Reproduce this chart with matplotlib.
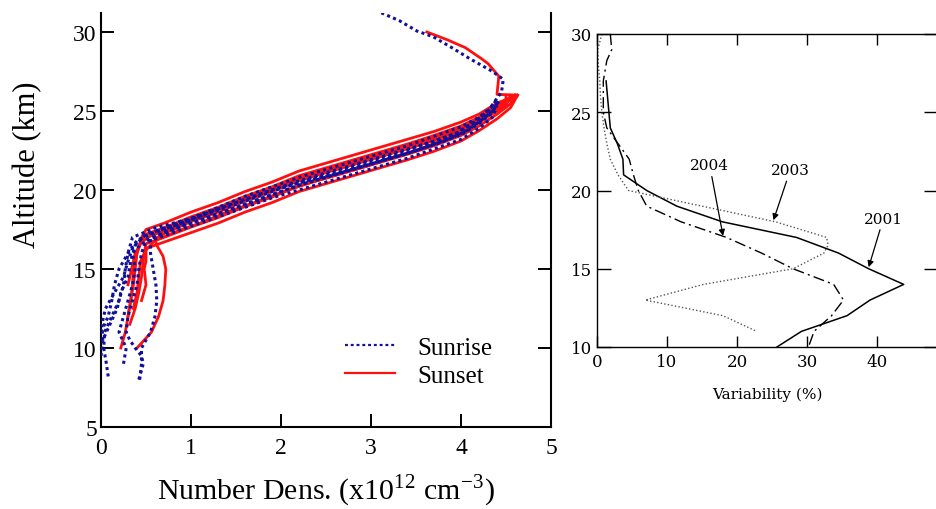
import matplotlib
matplotlib.use("Agg")
import matplotlib.pyplot as plt

# ---- left panel: number density profiles (altitude km, density x1e12 cm-3)
# sunset profiles
ss1_alt = [12.0, 13.0, 14.0, 15.0, 16.0, 17.0, 17.5, 17.9, 18.6, 19.2, 19.9, 20.5, 21.2, 21.7, 22.2, 22.7,
           23.2, 23.7, 24.3, 24.8, 25.5, 26.0, 26.05, 27.2, 28.0, 28.3, 29.0, 29.5, 30.0]
ss1_den = [0.30, 0.33, 0.36, 0.38, 0.40, 0.45, 0.50, 0.70, 1.0, 1.3, 1.6, 1.9, 2.2, 2.5, 2.8, 3.1,
           3.4, 3.7, 4.0, 4.2, 4.4, 4.63, 4.40, 4.42, 4.30, 4.23, 4.05, 3.85, 3.62]
ss2_alt = [10.0, 11.0, 12.0, 13.0, 14.0, 15.0, 16.0, 16.8, 17.2, 17.6, 18.3, 18.9, 19.6, 20.2, 20.9, 21.4,
           21.9, 22.4, 22.9, 23.45, 24.05, 24.6, 25.3, 25.85, 26.0]
ss2_den = [0.22, 0.27, 0.30, 0.33, 0.35, 0.36, 0.40, 0.45, 0.50, 0.70, 1.0, 1.3, 1.6, 1.9, 2.2, 2.5,
           2.8, 3.1, 3.4, 3.7, 4.0, 4.2, 4.4, 4.55, 4.60]
ss3_alt = [10.0, 10.5, 11.0, 12.0, 13.0, 14.0, 15.0, 15.8, 16.5, 16.9, 17.3, 18.0, 18.6, 19.3, 19.9, 20.6,
           21.1, 21.6, 22.1, 22.6, 23.15, 23.8, 24.4, 25.1, 25.7, 26.0]
ss3_den = [0.40, 0.48, 0.56, 0.64, 0.69, 0.71, 0.72, 0.69, 0.62, 0.60, 0.72, 1.0, 1.3, 1.6, 1.9, 2.2,
           2.5, 2.8, 3.1, 3.4, 3.7, 4.0, 4.2, 4.4, 4.55, 4.62]
ss4_alt = [11.5, 12.5, 13.5, 14.5, 15.5, 16.0, 16.6, 17.0, 17.65, 18.25, 18.95, 19.55, 20.25, 20.75, 21.25,
           21.75, 22.25, 22.8, 23.45, 24.05, 24.8, 25.45, 26.0]
ss4_den = [0.32, 0.38, 0.42, 0.45, 0.47, 0.48, 0.50, 0.70, 1.0, 1.3, 1.6, 1.9, 2.2, 2.5, 2.8,
           3.1, 3.4, 3.7, 4.0, 4.2, 4.4, 4.55, 4.60]
ss5_alt = [13.0, 14.0, 15.0, 15.5, 16.3, 16.7, 17.3, 17.9, 18.6, 19.2, 19.9, 20.4, 20.9, 21.4, 21.9,
           22.45, 23.1, 23.75, 24.5, 25.2, 26.0]
ss5_den = [0.45, 0.50, 0.48, 0.50, 0.50, 0.70, 1.0, 1.3, 1.6, 1.9, 2.2, 2.5, 2.8, 3.1, 3.4,
           3.7, 4.0, 4.2, 4.4, 4.55, 4.63]
ss6_alt = [14.0, 15.0, 16.0, 16.7, 17.1, 17.5, 18.1, 18.75, 19.45, 20.05, 20.75, 21.25, 21.75, 22.25,
           22.75, 23.3, 23.95, 24.5, 25.2, 25.75, 26.0]
ss6_den = [0.30, 0.34, 0.38, 0.45, 0.55, 0.75, 1.0, 1.3, 1.6, 1.9, 2.2, 2.5, 2.8, 3.1,
           3.4, 3.7, 4.0, 4.2, 4.4, 4.5, 4.5]
ss7_alt = [12.5, 13.5, 14.5, 15.5, 16.2, 16.8, 17.4, 17.9, 18.6, 19.2, 19.95, 20.5, 21.0, 21.5, 22.05,
           22.6, 23.3, 23.9, 24.65, 25.35, 26.0]
ss7_den = [0.36, 0.40, 0.42, 0.44, 0.50, 0.60, 0.85, 1.1, 1.4, 1.7, 2.05, 2.35, 2.65, 2.95, 3.25,
           3.55, 3.85, 4.1, 4.3, 4.5, 4.55]

# sunrise profiles
sr1_alt = [8.2, 9.0, 10.0, 11.0, 12.0, 13.0, 14.0, 15.0, 16.0, 17.0, 17.6, 18.2, 18.9, 19.6, 20.2, 20.8,
           21.3, 21.8, 22.3, 22.8, 23.4, 24.0, 24.6, 25.3, 25.8]
sr1_den = [0.08, 0.06, 0.03, 0.04, 0.12, 0.20, 0.25, 0.27, 0.30, 0.35, 0.60, 1.0, 1.3, 1.6, 1.9, 2.2,
           2.5, 2.8, 3.1, 3.4, 3.7, 4.0, 4.2, 4.35, 4.4]
sr2_alt = [9.5, 10.5, 11.5, 12.5, 13.5, 14.5, 15.5, 16.5, 17.2, 17.7, 18.3, 18.9, 19.5, 20.1, 20.6, 21.0,
           21.5, 22.0, 22.5, 23.05, 23.7, 24.3, 25.0, 25.6]
sr2_den = [0.0, 0.02, 0.10, 0.18, 0.22, 0.30, 0.33, 0.38, 0.50, 0.80, 1.1, 1.4, 1.7, 2.0, 2.3, 2.6,
           2.9, 3.2, 3.5, 3.8, 4.05, 4.2, 4.35, 4.42]
sr3_alt = [8.0, 9.0, 9.5, 10.0, 10.5, 11.0, 12.0, 13.0, 14.0, 15.0, 16.0, 16.8, 17.3, 17.9, 18.5, 19.1,
           19.7, 20.3, 20.8, 21.3, 21.8, 22.3, 22.9, 23.5, 24.2, 24.9, 25.5]
sr3_den = [0.42, 0.47, 0.45, 0.38, 0.32, 0.28, 0.30, 0.35, 0.40, 0.42, 0.45, 0.50, 0.70, 1.0, 1.3, 1.6,
           1.9, 2.2, 2.5, 2.8, 3.1, 3.4, 3.7, 4.0, 4.2, 4.35, 4.4]
sr4_alt = [9.0, 10.0, 11.0, 12.0, 13.0, 14.0, 15.0, 16.0, 16.6, 17.1, 17.7, 18.3, 18.9, 19.5, 20.0, 20.5,
           21.0, 21.5, 22.0, 22.6, 23.2, 23.9, 24.6, 25.3]
sr4_den = [0.25, 0.28, 0.20, 0.25, 0.30, 0.35, 0.38, 0.35, 0.45, 0.70, 1.0, 1.3, 1.6, 1.9, 2.2, 2.5,
           2.8, 3.1, 3.4, 3.7, 4.0, 4.2, 4.35, 4.4]
sr5_alt = [8.0, 9.0, 10.0, 11.0, 12.0, 13.0, 14.0, 15.0, 16.0, 16.9, 17.4, 18.0, 18.6, 19.2, 19.8, 20.4,
           20.9, 21.4, 21.9, 22.4, 23.0, 23.6, 24.3, 25.0, 25.6]
sr5_den = [0.43, 0.45, 0.45, 0.55, 0.60, 0.62, 0.61, 0.58, 0.55, 0.55, 0.75, 1.05, 1.35, 1.65, 1.95, 2.25,
           2.55, 2.85, 3.15, 3.45, 3.75, 4.0, 4.2, 4.35, 4.42]
sr6_alt = [11.0, 12.0, 13.0, 14.0, 15.0, 16.0, 16.8, 17.4, 18.0, 18.7, 19.3, 19.9, 20.5, 21.0, 21.5, 22.0,
           22.5, 23.0, 23.6, 24.3, 25.0, 25.8, 26.2, 27.0, 27.5, 28.3, 29.0, 29.7, 30.06, 30.7, 31.2, 31.5]
sr6_den = [0.0, 0.08, 0.12, 0.15, 0.20, 0.30, 0.40, 0.65, 0.95, 1.25, 1.55, 1.85, 2.15, 2.45, 2.75, 3.05,
           3.35, 3.65, 3.95, 4.15, 4.3, 4.4, 4.45, 4.47, 4.35, 4.1, 3.9, 3.69, 3.51, 3.32, 3.12, 3.0]
sr7_alt = [10.5, 11.5, 12.5, 13.5, 14.5, 15.5, 16.3, 17.0, 17.5, 18.1, 18.7, 19.3, 19.9, 20.4, 20.9, 21.4,
           21.9, 22.4, 23.0, 23.6, 24.3, 25.0]
sr7_den = [0.02, 0.01, 0.05, 0.15, 0.25, 0.30, 0.35, 0.45, 0.65, 0.95, 1.25, 1.55, 1.85, 2.15, 2.45, 2.75,
           3.05, 3.35, 3.65, 3.95, 4.15, 4.3]

sunset = [(ss1_alt, ss1_den), (ss2_alt, ss2_den), (ss3_alt, ss3_den), (ss4_alt, ss4_den),
          (ss5_alt, ss5_den), (ss6_alt, ss6_den), (ss7_alt, ss7_den)]
sunrise = [(sr1_alt, sr1_den), (sr2_alt, sr2_den), (sr3_alt, sr3_den), (sr4_alt, sr4_den),
           (sr5_alt, sr5_den), (sr6_alt, sr6_den), (sr7_alt, sr7_den)]

# ---- right panel: variability (%) vs altitude
alt_2001 = [27, 24, 23, 22, 21, 20, 19, 18, 17, 16, 15, 14, 13, 12, 11, 10]
var_2001 = [1.3, 1.9, 2.9, 3.7, 3.8, 7.1, 11.4, 17.9, 28.5, 34.5, 38.8, 43.8, 39.0, 35.7, 29.2, 25.7]
alt_2003 = [30, 29, 28, 27, 26, 25, 24, 23, 22, 21, 20, 19, 18, 17, 16.5, 16, 15, 14, 13, 12, 11]
var_2003 = [0.7, 0.1, 0.2, 0.4, 0.5, 0.7, 1.0, 1.4, 1.9, 3.0, 4.5, 15.0, 25.5, 32.8, 33.0, 32.4,
            28.0, 15.2, 6.9, 18.0, 22.8]
alt_2004 = [30, 29, 28.3, 27, 26, 25, 24, 23, 22, 21, 20, 19, 18, 17, 16, 15, 14, 13, 12, 11, 10]
var_2004 = [1.9, 2.1, 1.4, 0.9, 0.9, 0.9, 1.4, 3.0, 4.6, 5.2, 5.9, 7.1, 12.0, 18.5, 23.5, 28.0,
            33.8, 35.2, 33.5, 31.0, 30.2]

serif = "Liberation Serif"
plt.rcParams["mathtext.fontset"] = "stix"

fig = plt.figure(figsize=(9.37, 5.10), dpi=100)
W, H = 937.0, 510.0

# left panel
ax1 = fig.add_axes([101 / W, 82 / H, 450 / W, 414 / H])
for a, d in sunset:
    ax1.plot(d, a, color="#ff1010", lw=2.0, zorder=2)
for a, d in sunrise:
    ax1.plot(d, a, color="#10109a", lw=2.2, ls=(0, (1.0, 1.1)), zorder=3)
ax1.plot([], [], color="#10109a", lw=1.6, ls=(0, (1.3, 1.3)), label="Sunrise")
ax1.plot([], [], color="#ff1010", lw=1.6, label="Sunset")
ax1.set_xlim(0, 5)
ax1.set_ylim(5, 31.2)
ax1.set_xticks([0, 1, 2, 3, 4, 5])
ax1.set_yticks([5, 10, 15, 20, 25, 30])
ax1.spines["top"].set_visible(False)
for s in ["left", "right", "bottom"]:
    ax1.spines[s].set_linewidth(1.5)
ax1.tick_params(axis="both", direction="in", length=9.5, width=1.4, labelsize=17)
ax1.tick_params(axis="y", right=True, pad=3)
ax1.tick_params(axis="x", pad=7)
for lab in ax1.get_xticklabels() + ax1.get_yticklabels():
    lab.set_fontfamily(serif)
leg = ax1.legend(loc="center left", bbox_to_anchor=(0.542, 0.158), frameon=False,
                 prop={"family": serif, "size": 18}, handlelength=2.0, handletextpad=0.9,
                 labelspacing=0.2, borderpad=0, borderaxespad=0)
fig.text(28 / W, 1 - 165 / H, "Altitude (km)", rotation=90, ha="center", va="center",
         family=serif, fontsize=22)
fig.text(326 / W, 1 - 491 / H, r"Number Dens. (x10$^{\mathregular{12}}$ cm$^{\mathregular{-3}}$)",
         ha="center", va="center", family=serif, fontsize=21.5)

# right panel
rs = "DejaVu Serif"
ax2 = fig.add_axes([597 / W, 162 / H, 341 / W, 313 / H])
ax2.plot(var_2001, alt_2001, color="black", lw=1.1)
ax2.plot(var_2003, alt_2003, color="#555555", lw=1.0, ls=(0, (1, 1.6)))
ax2.plot(var_2004, alt_2004, color="black", lw=1.0, ls=(0, (8, 3, 1.5, 3)))
ax2.set_xlim(0, 48.7)
ax2.set_ylim(10, 30)
ax2.set_xticks([0, 10, 20, 30, 40])
ax2.set_yticks([10, 15, 20, 25, 30])
for s in ax2.spines.values():
    s.set_linewidth(1.0)
ax2.tick_params(axis="y", direction="in", length=10, width=1.0, left=True, right=True,
                labelsize=12, pad=3.5)
ax2.tick_params(axis="x", direction="in", length=8, width=1.0, top=True, bottom=True,
                labelsize=12, pad=4.5)
for lab in ax2.get_xticklabels() + ax2.get_yticklabels():
    lab.set_fontfamily(rs)
ax2.set_xlabel("Variability (%)", family=rs, fontsize=11, labelpad=12)

arrow = dict(arrowstyle="-|>", color="black", lw=0.9, mutation_scale=9, shrinkA=1, shrinkB=0)
ax2.annotate("2004", xy=(18.0, 17.1), xytext=(16.1, 21.6), ha="center", va="center",
             family=rs, fontsize=11, arrowprops=arrow)
ax2.annotate("2003", xy=(25.2, 18.1), xytext=(27.6, 21.3), ha="center", va="center",
             family=rs, fontsize=11, arrowprops=arrow)
ax2.annotate("2001", xy=(38.8, 15.1), xytext=(40.9, 18.2), ha="center", va="center",
             family=rs, fontsize=11, arrowprops=arrow)

fig.savefig("out.png", dpi=100)
